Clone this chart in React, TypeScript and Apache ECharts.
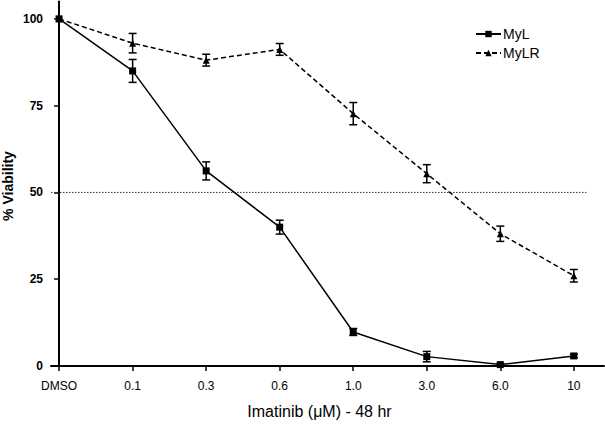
import React, { useEffect, useRef } from "react";
import * as echarts from "echarts";

const categories = ["DMSO", "0.1", "0.3", "0.6", "1.0", "3.0", "6.0", "10"];
const myL = [100, 85.0, 56.2, 40.0, 9.8, 2.7, 0.4, 2.9];
const myLErr = [0, 3.3, 2.6, 2.0, 1.0, 1.5, 0.3, 0.5];
const myLR = [100, 93.0, 88.1, 91.2, 72.7, 55.4, 38.1, 26.0];
const myLRErr = [0, 2.8, 1.7, 1.7, 3.2, 2.6, 2.2, 1.8];
const yTicks = [0, 25, 50, 75, 100];
const refLine = 50;

const errData = (vals: number[], errs: number[]) =>
  vals.map((v, i) => [i, v - errs[i], v + errs[i]]);

const errRender = (params: any, api: any) => {
  const x = api.value(0);
  const lo = api.coord([x, api.value(1)]);
  const hi = api.coord([x, api.value(2)]);
  if (Math.abs(hi[1] - lo[1]) < 1) return { type: "group", children: [] };
  const w = 4;
  const st = { stroke: "#000", lineWidth: 1.5 };
  return {
    type: "group",
    children: [
      { type: "line", shape: { x1: lo[0], y1: lo[1], x2: hi[0], y2: hi[1] }, style: st },
      { type: "line", shape: { x1: lo[0] - w, y1: lo[1], x2: lo[0] + w, y2: lo[1] }, style: st },
      { type: "line", shape: { x1: hi[0] - w, y1: hi[1], x2: hi[0] + w, y2: hi[1] }, style: st },
    ],
  };
};

export default function App() {
  const ref = useRef<HTMLDivElement>(null);
  useEffect(() => {
    if (!ref.current) return;
    const chart = echarts.init(ref.current, null, { renderer: "svg" });
    const idx = categories.map((_, i) => i);
    chart.setOption({
      animation: false,
      backgroundColor: "#fff",
      textStyle: { fontFamily: "Liberation Sans, Arial, sans-serif" },
      grid: { left: 51, right: 1, top: 1.5, bottom: 56 },
      legend: {
        data: ["MyL", "MyLR"],
        orient: "vertical",
        left: 475,
        top: 27,
        padding: 0,
        itemWidth: 25,
        itemHeight: 8,
        itemGap: 5,
        textStyle: { fontSize: 14, color: "#000", padding: [0, 0, 0, -3] },
      },
      xAxis: {
        type: "value",
        min: -0.11,
        max: 7.41,
        name: "Imatinib (\u03bcM) - 48 hr",
        nameLocation: "middle",
        nameGap: 37,
        nameTextStyle: { fontSize: 16, color: "#000", padding: [0, 16, 0, 0] },
        splitLine: { show: false },
        axisLine: { lineStyle: { color: "#000", width: 2 } },
        axisTick: { show: true, length: 5, lineStyle: { color: "#000", width: 1.5 }, customValues: idx },
        axisLabel: {
          customValues: idx,
          formatter: (v: number) => categories[Math.round(v)] ?? "",
          fontSize: 12,
          color: "#000",
          margin: 14,
        },
      },
      yAxis: {
        type: "value",
        min: 0,
        max: 105,
        splitLine: { show: false },
        axisLine: { show: true, lineStyle: { color: "#000", width: 2 } },
        axisTick: { show: true, length: 5, lineStyle: { color: "#000", width: 1.5 }, customValues: yTicks },
        axisLabel: { customValues: yTicks, fontSize: 12, fontWeight: "bold", color: "#000", margin: 8 },
      },
      graphic: [
        {
          type: "text",
          x: 8,
          y: 186,
          rotation: Math.PI / 2,
          style: {
            text: "% Viability",
            font: "bold 14px 'Liberation Sans', Arial, sans-serif",
            fill: "#000",
            align: "center",
            verticalAlign: "middle",
          },
        },
      ],
      series: [
        {
          name: "ref",
          type: "line",
          data: [[-0.11, refLine], [7.17, refLine]],
          symbol: "none",
          silent: true,
          lineStyle: { color: "#333", width: 1, type: [1.5, 1.5] },
          z: 1,
        },
        {
          name: "MyLR",
          type: "line",
          data: myLR.map((v, i) => [i, v]),
          symbol: "triangle",
          symbolSize: 7,
          color: "#000",
          itemStyle: { color: "#000" },
          lineStyle: { color: "#000", width: 1.5, type: [5, 3] },
          z: 3,
        },
        {
          name: "MyL",
          type: "line",
          data: myL.map((v, i) => [i, v]),
          symbol: "rect",
          symbolSize: 7,
          color: "#000",
          itemStyle: { color: "#000" },
          lineStyle: { color: "#000", width: 1.5 },
          z: 3,
        },
        {
          name: "errL",
          type: "custom",
          renderItem: errRender,
          data: errData(myL, myLErr),
          silent: true,
          z: 4,
        },
        {
          name: "errLR",
          type: "custom",
          renderItem: errRender,
          data: errData(myLR, myLRErr),
          silent: true,
          z: 4,
        },
      ],
    });
    return () => chart.dispose();
  }, []);
  return <div ref={ref} style={{ width: 605, height: 424, position: "absolute", left: 0, top: 0 }} />;
}
